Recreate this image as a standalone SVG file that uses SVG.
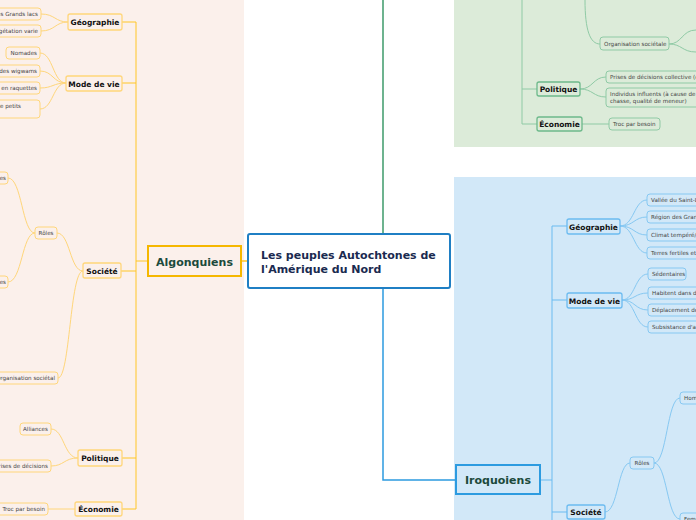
<svg xmlns="http://www.w3.org/2000/svg" width="696" height="520" viewBox="0 0 696 520">
<style>
.t{font-family:"DejaVu Sans",Verdana,sans-serif}
.lf{font-family:"DejaVu Sans",sans-serif;font-size:5.6px;fill:#444}
.br{font-family:"DejaVu Sans",sans-serif;font-size:7.5px;font-weight:bold;fill:#111}
.ya{fill:#fbf0eb;stroke:#ffd67a;stroke-width:1}
.ga{fill:#dcebd9;stroke:#8fcaa5;stroke-width:1}
.ba{fill:#d2e8f8;stroke:#86c8f2;stroke-width:1}
.yb{fill:#fbf0eb;stroke:#ffd67a;stroke-width:1.3}
.gb{fill:#dcebd9;stroke:#6cb98a;stroke-width:1.3}
.bb{fill:#d2e8f8;stroke:#6bbbf0;stroke-width:1.3}
.yc{fill:none;stroke:#ffd67a;stroke-width:1}
.gc{fill:none;stroke:#8fcaa5;stroke-width:1}
.bc{fill:none;stroke:#86c8f2;stroke-width:1}
</style>
<rect x="0" y="0" width="696" height="520" fill="#fff"/>
<rect x="0" y="0" width="244" height="520" fill="#fbf0eb"/>
<rect x="454" y="0" width="242" height="147" fill="#dcebd9"/>
<rect x="454" y="177" width="242" height="343" fill="#d2e8f8"/>
<g id="connectors">
<path d="M383 234V0" fill="none" stroke="#3d9a6a" stroke-width="1.5"/>
<path d="M383 288V480H456" fill="none" stroke="#2d9be0" stroke-width="1.5"/>
<path d="M241 261H248" stroke="#ffc627" stroke-width="1.5"/>
<path d="M148 261H136M136 22V509M122 22H136M122 83H136M121 271H136M122 458H136M122 509H136" fill="none" stroke="#ffc627" stroke-width="1"/>
<path d="M68 22C55 22 55 14 41 14M68 22C55 22 55 31 41 31" class="yc"/>
<path d="M66 83C53 83 53 53 40 53M66 83C53 83 53 71 40 71M66 83C53 83 53 88 40 88M66 83C53 83 53 109 40 109" class="yc"/>
<path d="M83 271C70 271 70 233 57 233M83 271C70 271 70 378 58 378M35 233C22 233 22 178 8 178M35 233C22 233 22 282 8 282" class="yc"/>
<path d="M78 458C64 458 64 429 51 429M78 458C64 458 64 466 51 466M75 509H48" class="yc"/>
<path d="M522 0V124M522 89H537M522 124H537" fill="none" stroke="#8fcaa5" stroke-width="1"/>
<path d="M585 0C585 30 590 44 600 44M669 44C682 44 682 30 696 30M669 44C682 44 682 52 696 52" class="gc"/>
<path d="M580 89C593 89 593 77 606 77M580 89C593 89 593 97 606 97M582 124H609" class="gc"/>
<path d="M552 226V520M540 480H552M552 226H567M552 300H567M552 512H567" fill="none" stroke="#6bbbf0" stroke-width="1"/>
<path d="M620 226C634 226 634 200 647 200M620 226C634 226 634 217 647 217M620 226C634 226 634 235 647 235M620 226C634 226 634 253 647 253" class="bc"/>
<path d="M622 300C635 300 635 274 648 274M622 300C635 300 635 293 648 293M622 300C635 300 635 310 648 310M622 300C635 300 635 327 648 327" class="bc"/>
<path d="M605 512C618 512 618 463 630 463M654 463C667 463 667 398 680 398M654 463C667 463 667 519 680 519" class="bc"/>
</g>
<g id="root"><rect x="248" y="234" width="202" height="54" rx="2" fill="#fff" stroke="#1f7fc4" stroke-width="2"/>
<text class="t" x="261" y="259" font-size="11" font-weight="bold" fill="#1a2a50">Les peuples Autochtones de</text>
<text class="t" x="261" y="273" font-size="11" font-weight="bold" fill="#1a2a50">l'Amérique du Nord</text></g>
<g id="algonquiens"><rect x="148" y="246" width="93" height="30" fill="#fbf0eb" stroke="#f5b700" stroke-width="2"/>
<text class="t" x="194.5" y="265.5" text-anchor="middle" font-size="11" font-weight="bold" fill="#1c4a3c">Algonquiens</text></g>
<g id="iroquoiens"><rect x="456" y="465" width="84" height="29" fill="#d2e8f8" stroke="#2d9be0" stroke-width="2"/>
<text class="t" x="498" y="484" text-anchor="middle" font-size="11" font-weight="bold" fill="#1c4a3c">Iroquoiens</text></g>
<g id="a-geo"><rect class="yb" x="68" y="14" width="54" height="16" rx="2"/><text class="br" x="95" y="25" text-anchor="middle">Géographie</text></g>
<g id="a-mode"><rect class="yb" x="66" y="76" width="56" height="15" rx="2"/><text class="br" x="94" y="86.5" text-anchor="middle">Mode de vie</text></g>
<g id="a-soc"><rect class="yb" x="83" y="263" width="38" height="15" rx="2"/><text class="br" x="102" y="273.5" text-anchor="middle">Société</text></g>
<g id="a-pol"><rect class="yb" x="78" y="450" width="44" height="16" rx="2"/><text class="br" x="100" y="461" text-anchor="middle">Politique</text></g>
<g id="a-eco"><rect class="yb" x="75" y="502" width="47" height="14" rx="2"/><text class="br" x="98.5" y="512" text-anchor="middle">Économie</text></g>
<g id="a-leaves">
<rect class="ya" x="-20" y="8" width="61" height="12" rx="3"/><text class="lf" x="38" y="16" text-anchor="end">Région des Grands lacs</text>
<rect class="ya" x="-20" y="25" width="61" height="12" rx="3"/><text class="lf" x="38" y="33" text-anchor="end">Végétation varie</text>
<rect class="ya" x="6" y="47" width="34" height="12" rx="3"/><text class="lf" x="37" y="55" text-anchor="end">Nomades</text>
<rect class="ya" x="-20" y="65" width="60" height="12" rx="3"/><text class="lf" x="37" y="73" text-anchor="end">Habitent des wigwams</text>
<rect class="ya" x="-20" y="82" width="60" height="12" rx="3"/><text class="lf" x="37" y="90" text-anchor="end">Déplacement en raquettes</text>
<rect class="ya" x="-20" y="100" width="60" height="18" rx="3"/><text class="lf" x="21" y="108" text-anchor="end">Chasse de petits</text>
<rect class="ya" x="35" y="227" width="22" height="12" rx="3"/><text class="lf" x="46" y="235" text-anchor="middle">Rôles</text>
<rect class="ya" x="-20" y="172" width="28" height="12" rx="3"/><text class="lf" x="6" y="180" text-anchor="end">Hommes</text>
<rect class="ya" x="-20" y="276" width="28" height="12" rx="3"/><text class="lf" x="6" y="284" text-anchor="end">Femmes</text>
<rect class="ya" x="-20" y="372" width="78" height="12" rx="3"/><text class="lf" x="55" y="380" text-anchor="end">Organisation sociétal</text>
<rect class="ya" x="20" y="423" width="31" height="12" rx="3"/><text class="lf" x="35.5" y="431" text-anchor="middle">Alliances</text>
<rect class="ya" x="-20" y="460" width="71" height="12" rx="3"/><text class="lf" x="48" y="468" text-anchor="end">Prises de décisions</text>
<rect class="ya" x="-5" y="503" width="53" height="12" rx="3"/><text class="lf" x="45" y="511" text-anchor="end">Troc par besoin</text>
</g>
<g id="g-pol"><rect class="gb" x="537" y="82" width="43" height="14" rx="2"/><text class="br" x="558.5" y="92" text-anchor="middle">Politique</text></g>
<g id="g-eco"><rect class="gb" x="537" y="117" width="45" height="14" rx="2"/><text class="br" x="559.5" y="127" text-anchor="middle">Économie</text></g>
<g id="g-leaves">
<rect class="ga" x="600" y="37" width="69" height="13" rx="3"/><text class="lf" x="604" y="45.5">Organisation sociétale</text>
<rect class="ga" x="606" y="71" width="100" height="12" rx="3"/><text class="lf" x="610" y="79">Prises de décisions collective (conseil)</text>
<rect class="ga" x="606" y="88" width="100" height="19" rx="3"/><text class="lf" x="610" y="96">Individus influents (à cause de</text><text class="lf" x="610" y="103">chasse, qualité de meneur)</text>
<rect class="ga" x="609" y="118" width="51" height="12" rx="3"/><text class="lf" x="613" y="126">Troc par besoin</text>
</g>
<g id="b-geo"><rect class="bb" x="567" y="219" width="53" height="15" rx="2"/><text class="br" x="593.5" y="229.5" text-anchor="middle">Géographie</text></g>
<g id="b-mode"><rect class="bb" x="567" y="293" width="55" height="15" rx="2"/><text class="br" x="594.5" y="303.5" text-anchor="middle">Mode de vie</text></g>
<g id="b-soc"><rect class="bb" x="567" y="505" width="38" height="14" rx="2"/><text class="br" x="586" y="515" text-anchor="middle">Société</text></g>
<g id="b-leaves">
<rect class="ba" x="647" y="194" width="70" height="12" rx="3"/><text class="lf" x="651" y="202">Vallée du Saint-Laurent</text>
<rect class="ba" x="647" y="211" width="70" height="12" rx="3"/><text class="lf" x="651" y="219">Région des Grands lacs</text>
<rect class="ba" x="647" y="229" width="70" height="12" rx="3"/><text class="lf" x="651" y="237">Climat tempéré/humide</text>
<rect class="ba" x="647" y="247" width="70" height="12" rx="3"/><text class="lf" x="651" y="255">Terres fertiles et riches</text>
<rect class="ba" x="648" y="268" width="38" height="12" rx="3"/><text class="lf" x="652" y="276">Sédentaires</text>
<rect class="ba" x="648" y="287" width="70" height="12" rx="3"/><text class="lf" x="652" y="295">Habitent dans des maisons longues</text>
<rect class="ba" x="648" y="304" width="70" height="12" rx="3"/><text class="lf" x="652" y="312">Déplacement de canot</text>
<rect class="ba" x="648" y="321" width="70" height="12" rx="3"/><text class="lf" x="652" y="329">Subsistance d'agriculture</text>
<rect class="ba" x="630" y="457" width="24" height="12" rx="3"/><text class="lf" x="642" y="465" text-anchor="middle">Rôles</text>
<rect class="ba" x="680" y="392" width="40" height="12" rx="3"/><text class="lf" x="684" y="400">Hommes</text>
<rect class="ba" x="680" y="513" width="40" height="12" rx="3"/><text class="lf" x="684" y="521">Femmes</text>
</g>
</svg>
